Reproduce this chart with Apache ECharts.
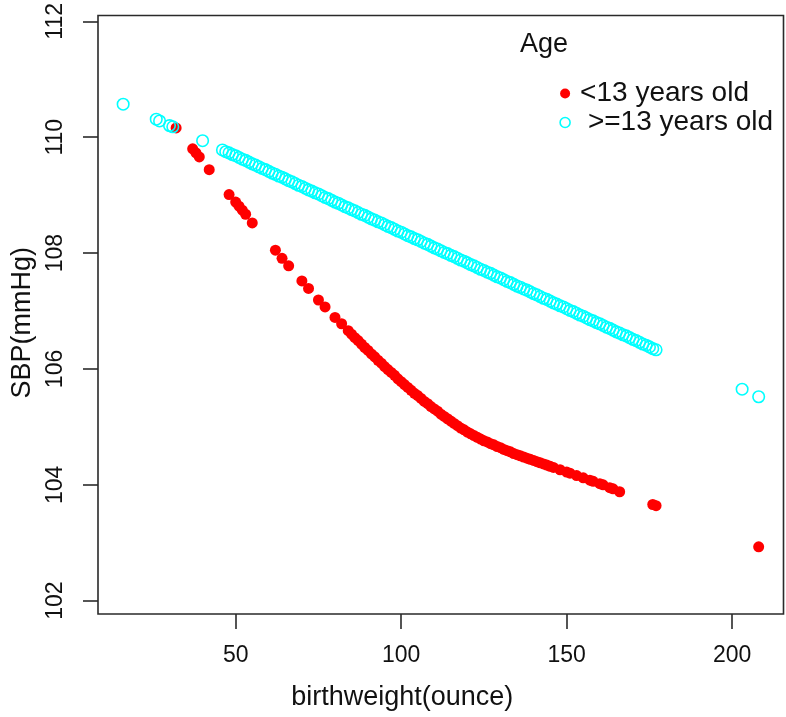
<!DOCTYPE html>
<html>
<head>
<meta charset="utf-8">
<script src="https://cdn.jsdelivr.net/npm/echarts@6/dist/echarts.min.js"></script>
<style>
html,body{margin:0;padding:0;background:#fff;}
#chart{width:786px;height:717px;}
</style>
</head>
<body>
<div id="chart"></div>
<script>
// ---- data ----
const xTicks = [50, 100, 150, 200];
const yTicks = [102, 104, 106, 108, 110, 112];
const seriesNames = ['<13 years old', ' >=13 years old'];
const legendTitle = 'Age';
const xTitle = 'birthweight(ounce)';
const yTitle = 'SBP(mmHg)';

const redX = [32,37,38,39,42,48,50,51,52,53,55,62,64,66,70,72,75,77,80,82,
  84,85,86,87,88,89,90,91,92,93,94,95,96,97,98,99,100,101,102,103,104,105,106,107,108,109,110,
  111,112,113,114,115,116,117,118,119,120,121,122,123,124,125,126,127,128,129,130,131,132,133,
  134,135,136,137,138,139,140,141,142,143,144,145,146,148,150,151,153,155,157,158,160,161,163,
  164,166,176,177,208];
const redY = [110.16,109.80,109.73,109.66,109.44,109.01,108.88,108.81,108.74,108.67,108.52,108.05,107.91,107.78,107.52,107.39,107.19,107.07,106.89,106.78,
  106.66,106.60,106.54,106.49,106.43,106.37,106.32,106.26,106.21,106.15,106.10,106.04,105.99,105.94,105.89,105.83,105.78,105.73,105.68,105.63,105.58,105.54,105.49,105.44,105.40,105.35,105.31,
  105.27,105.22,105.18,105.14,105.10,105.06,105.02,104.98,104.95,104.91,104.88,104.85,104.82,104.79,104.76,104.74,104.71,104.69,104.66,104.64,104.61,104.59,104.57,
  104.54,104.52,104.50,104.48,104.46,104.44,104.42,104.40,104.38,104.36,104.34,104.32,104.30,104.26,104.22,104.20,104.16,104.12,104.08,104.06,104.02,104.00,103.95,
  103.93,103.88,103.66,103.64,102.93];

const cyanX = [16,26,27,30,31,40,
  46,47,48,49,50,51,52,53,54,55,56,57,58,59,60,61,62,63,64,65,66,67,68,69,70,71,72,73,74,75,
  76,77,78,79,80,81,82,83,84,85,86,87,88,89,90,91,92,93,94,95,96,97,98,99,100,101,102,103,104,105,
  106,107,108,109,110,111,112,113,114,115,116,117,118,119,120,121,122,123,124,125,126,127,128,129,130,
  131,132,133,134,135,136,137,138,139,140,141,142,143,144,145,146,147,148,149,150,151,152,153,154,155,
  156,157,158,159,160,161,162,163,164,165,166,167,168,169,170,171,172,173,174,175,176,177,203,208];
const cyanY = [110.57,110.31,110.28,110.20,110.18,109.94,
  109.78,109.75,109.73,109.70,109.68,109.65,109.62,109.60,109.57,109.54,109.52,109.49,109.46,109.44,109.41,109.38,109.36,109.33,109.31,109.28,109.25,109.23,109.20,109.17,109.15,109.12,109.09,109.07,109.04,109.02,
  108.99,108.96,108.94,108.91,108.88,108.86,108.83,108.80,108.78,108.75,108.73,108.70,108.67,108.65,108.62,108.59,108.57,108.54,108.52,108.49,108.46,108.44,108.41,108.38,108.36,108.33,108.30,108.28,108.25,108.23,
  108.20,108.17,108.15,108.12,108.09,108.07,108.04,108.01,107.99,107.96,107.94,107.91,107.88,107.86,107.83,107.80,107.78,107.75,107.72,107.70,107.67,107.65,107.62,107.59,107.57,
  107.54,107.51,107.49,107.46,107.43,107.41,107.38,107.36,107.33,107.30,107.28,107.25,107.22,107.20,107.17,107.14,107.12,107.09,107.07,107.04,107.01,106.99,106.96,106.93,106.91,
  106.88,106.85,106.83,106.80,106.78,106.75,106.72,106.70,106.67,106.64,106.62,106.59,106.57,106.54,106.51,106.49,106.46,106.43,106.41,106.38,106.35,106.33,105.65,105.52];

// ---- chart ----
const FONT = "'Liberation Sans', Arial, Helvetica, sans-serif";
const chart = echarts.init(document.getElementById('chart'), null, {renderer: 'canvas'});

const option = {
  animation: false,
  backgroundColor: '#ffffff',
  grid: {
    left: 98, top: 14, width: 685.5, height: 600,
    show: true, borderColor: '#2a2a2a', borderWidth: 1.6, backgroundColor: 'transparent'
  },
  xAxis: {
    type: 'value', min: 8.4, max: 215.5,
    axisLine: {show: false},
    splitLine: {show: false},
    axisTick: {show: true, length: 15, customValues: xTicks, lineStyle: {color: '#2a2a2a', width: 1.6}},
    axisLabel: {customValues: xTicks, fontSize: 23, lineHeight: 23, margin: 30, color: '#111', fontFamily: FONT},
    name: xTitle, nameLocation: 'middle', nameGap: 70,
    nameTextStyle: {fontSize: 27, lineHeight: 27, color: '#111', fontFamily: FONT, padding: [0, 77, 0, 0]}
  },
  yAxis: {
    type: 'value', min: 101.77, max: 112.1,
    axisLine: {show: false},
    splitLine: {show: false},
    axisTick: {show: true, length: 15, customValues: yTicks, lineStyle: {color: '#2a2a2a', width: 1.6}},
    axisLabel: {customValues: yTicks, rotate: 90, fontSize: 23, lineHeight: 23, margin: 31, color: '#111', fontFamily: FONT},
    name: yTitle, nameLocation: 'middle', nameGap: 62, nameRotate: 90,
    nameTextStyle: {fontSize: 27, lineHeight: 27, color: '#111', fontFamily: FONT, padding: [0, 16, 0, 0]}
  },
  legend: {
    orient: 'vertical', left: 559.3, top: 79.5, padding: 0,
    itemWidth: 20, itemHeight: 10, itemGap: 1, symbolKeepAspect: true,
    textStyle: {fontSize: 28, lineHeight: 28, color: '#111', fontFamily: FONT},
    data: [
      {name: seriesNames[0], icon: 'circle', itemStyle: {color: '#FF0000', borderWidth: 0}},
      {name: seriesNames[1], icon: 'circle', itemStyle: {color: 'rgba(0,0,0,0)', borderColor: '#00FFFF', borderWidth: 1.6}}
    ]
  },
  graphic: [{
    type: 'text', left: 520, top: 31,
    style: {text: legendTitle, fontSize: 27, fontFamily: FONT, fill: '#111'}
  }],
  series: [
    {
      name: seriesNames[0], type: 'scatter', symbol: 'circle', symbolSize: 11,
      itemStyle: {color: '#FF0000', opacity: 1},
      data: redX.map((x, i) => [x, redY[i]])
    },
    {
      name: seriesNames[1], type: 'scatter', symbol: 'circle', symbolSize: 11.5,
      itemStyle: {color: 'rgba(0,0,0,0)', borderColor: '#00FFFF', borderWidth: 1.6, opacity: 1},
      data: cyanX.map((x, i) => [x, cyanY[i]])
    }
  ]
};
chart.setOption(option);
</script>
</body>
</html>
